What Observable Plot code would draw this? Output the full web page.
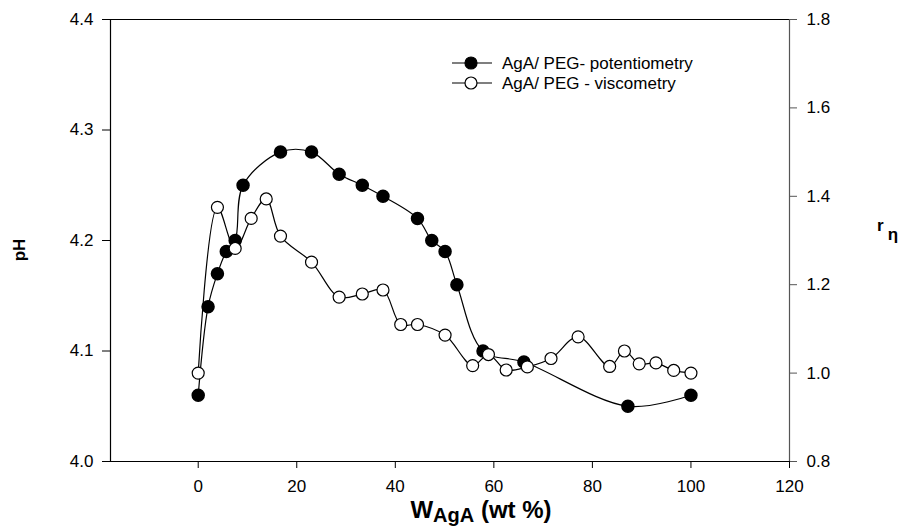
<!DOCTYPE html>
<html>
<head>
<meta charset="utf-8">
<script src="https://cdn.jsdelivr.net/npm/d3@7"></script>
<script src="https://cdn.jsdelivr.net/npm/@observablehq/plot@0.6"></script>
<style>
  html, body { margin: 0; padding: 0; background: #fff; }
  #chart { width: 901px; height: 527px; }
</style>
</head>
<body>
<div id="chart"></div>
<script>
// ---- data ----
const potX  = [0, 2, 3.9, 5.7, 7.5, 9.1, 16.7, 23, 28.6, 33.3, 37.5, 44.5, 47.4, 50.1, 52.5, 57.8, 66.1, 87.2, 100];
const potPH = [4.06, 4.14, 4.17, 4.19, 4.20, 4.25, 4.28, 4.28, 4.26, 4.25, 4.24, 4.22, 4.20, 4.19, 4.16, 4.10, 4.09, 4.05, 4.06];

const visX  = [0, 3.9, 7.5, 10.75, 13.8, 16.7, 23, 28.6, 33.3, 37.5, 41.1, 44.5, 50.1, 55.7, 58.9, 62.5, 66.8, 71.6, 77.1, 83.5, 86.5, 89.5, 92.9, 96.5, 100];
const visR  = [1.00, 1.375, 1.282, 1.35, 1.394, 1.31, 1.251, 1.172, 1.179, 1.188, 1.11, 1.11, 1.086, 1.017, 1.042, 1.007, 1.014, 1.033, 1.082, 1.015, 1.05, 1.021, 1.023, 1.006, 1.00];

const xTicks  = [0, 20, 40, 60, 80, 100, 120];
const phTicks = [4.0, 4.1, 4.2, 4.3, 4.4];
const rTicks  = [0.8, 1.0, 1.2, 1.4, 1.6, 1.8];
const seriesNames = ["AgA/ PEG- potentiometry", "AgA/ PEG - viscometry"];

// ---- scales ----
const phDomain = [4.0, 4.4];
const rDomain  = [0.8, 1.8];
const xDomain  = [-17.8, 120];
const rToPH = r => phDomain[0] + (r - rDomain[0]) * (phDomain[1] - phDomain[0]) / (rDomain[1] - rDomain[0]);
const phToR = p => rDomain[0] + (p - phDomain[0]) * (rDomain[1] - rDomain[0]) / (phDomain[1] - phDomain[0]);

const pot = potX.map((x, i) => ({x, y: potPH[i]}));
const vis = visX.map((x, i) => ({x, y: rToPH(visR[i])}));

const FONT = "'Liberation Sans', Arial, Helvetica, sans-serif";

const chart = Plot.plot({
  width: 901,
  height: 527,
  marginLeft: 110,
  marginRight: 112,
  marginTop: 19,
  marginBottom: 66,
  style: {fontFamily: FONT, fontSize: "17px", background: "#fff", color: "#000", overflow: "visible"},
  x: {domain: xDomain},
  y: {domain: phDomain},
  marks: [
    Plot.axisX({ticks: xTicks, tickFormat: d => d, tickSize: 7, tickPadding: 11, fontSize: 17, label: null}),
    Plot.axisY({ticks: phTicks, tickFormat: d => d.toFixed(1), tickSize: 8, tickPadding: 9, fontSize: 17, label: null}),
    Plot.axisY({anchor: "right", ticks: rTicks.map(rToPH), tickFormat: d => phToR(d).toFixed(1), tickSize: 7, tickPadding: 10, fontSize: 17, label: null, stroke: "#555"}),
    Plot.ruleY([phDomain[1]], {stroke: "#000", strokeWidth: 1.2}),
    Plot.ruleY([phDomain[0]], {stroke: "#000", strokeWidth: 1.2}),
    Plot.ruleX([xDomain[0]], {stroke: "#000", strokeWidth: 1.2}),
    Plot.ruleX([xDomain[1]], {stroke: "#555", strokeWidth: 1.2}),
    Plot.line(pot, {x: "x", y: "y", curve: "catmull-rom", stroke: "#000", strokeWidth: 1.2}),
    Plot.dot(pot, {x: "x", y: "y", r: 6, fill: "#000", stroke: "#000"}),
    Plot.line(vis, {x: "x", y: "y", curve: "catmull-rom", stroke: "#000", strokeWidth: 1.2}),
    Plot.dot(vis, {x: "x", y: "y", r: 6, fill: "#fff", stroke: "#000", strokeWidth: 1.2})
  ]
});

document.getElementById("chart").appendChild(chart);

// ---- titles and legend ----
const svg = d3.select(chart);
svg.append("text")
  .attr("transform", "translate(25,250) rotate(-90)")
  .attr("text-anchor", "middle")
  .attr("font-family", FONT).attr("font-size", 17).attr("font-weight", "bold")
  .text("pH");

const rl = svg.append("text")
  .attr("x", 877).attr("y", 231)
  .attr("text-anchor", "start")
  .attr("font-family", FONT).attr("font-size", 17).attr("font-weight", "bold");
rl.append("tspan").text("r");
rl.append("tspan").attr("dx", 4).attr("dy", 9).text("η");

const xl = svg.append("text")
  .attr("x", 481).attr("y", 518)
  .attr("text-anchor", "middle")
  .attr("font-family", FONT).attr("font-size", 24).attr("font-weight", "bold");
xl.append("tspan").text("W");
xl.append("tspan").attr("dy", 4).attr("font-size", 20).text("AgA");
xl.append("tspan").attr("dy", -4).text(" (wt %)");

const leg = svg.append("g");
seriesNames.forEach((name, i) => {
  const y = 63 + i * 20;
  leg.append("line").attr("x1", 452).attr("x2", 492).attr("y1", y).attr("y2", y)
    .attr("stroke", "#000").attr("stroke-width", 1.2);
  leg.append("circle").attr("cx", 471).attr("cy", y).attr("r", 6)
    .attr("fill", i === 0 ? "#000" : "#fff").attr("stroke", "#000").attr("stroke-width", 1.2);
  leg.append("text").attr("x", 502).attr("y", y + 6)
    .attr("text-anchor", "start")
    .attr("font-family", FONT).attr("font-size", 17)
    .text(name);
});
</script>
</body>
</html>
